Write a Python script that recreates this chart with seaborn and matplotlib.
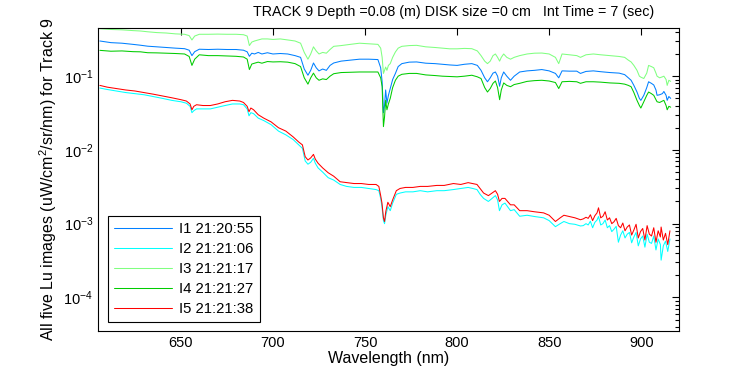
import matplotlib
matplotlib.use('Agg')
import matplotlib.pyplot as plt
import matplotlib.ticker as mticker
import pandas as pd
import seaborn as sns

# Upper group: I1 (blue), I3 (light green), I4 (green)
wl_top = [606, 612, 618, 624, 628, 632, 637, 642, 647, 652, 654.5, 656, 657.5, 660,
          665, 670, 675, 680, 684, 686, 687.2, 688.5, 690, 692, 694, 697, 700, 704,
          708, 712, 715, 717, 719, 720.5, 722, 723.5, 725, 727, 729, 731, 733, 737,
          742, 747, 752, 757, 758.5, 759.3, 760, 760.6, 761.2, 761.9, 762.7, 763.7,
          765, 766.5, 768, 770, 774, 778, 783, 788, 792, 796, 800, 804, 808, 811,
          813, 815, 816.5, 818, 819.5, 820.8, 822, 823.1, 824, 825.3, 827, 829, 831,
          834, 838, 842, 846, 850, 853.4, 855.2, 857, 861, 865, 867, 870, 874, 878,
          883, 888, 891, 893, 894.5, 896, 897.7, 899, 899.8, 901.4, 903, 904, 905.5,
          906.8, 908, 908.6, 910, 911.5, 912.3, 913.5, 914.1, 915, 916]
i3 = [0.44, 0.43, 0.425, 0.415, 0.41, 0.40, 0.39, 0.385, 0.375, 0.37, 0.355, 0.31, 0.35, 0.37,
      0.37, 0.372, 0.37, 0.37, 0.365, 0.35, 0.26, 0.29, 0.30, 0.31, 0.32, 0.32, 0.315, 0.32,
      0.31, 0.30, 0.28, 0.21, 0.17, 0.20, 0.25, 0.22, 0.20, 0.21, 0.205, 0.23, 0.254, 0.26,
      0.27, 0.28, 0.275, 0.27, 0.24, 0.18, 0.109, 0.12, 0.133, 0.12, 0.14, 0.148,
      0.18, 0.213, 0.24, 0.254, 0.26, 0.262, 0.25, 0.245, 0.24, 0.235, 0.235, 0.238, 0.236, 0.22,
      0.19, 0.16, 0.148, 0.16, 0.19, 0.20, 0.18, 0.16, 0.18, 0.20, 0.18, 0.17, 0.18,
      0.19, 0.20, 0.205, 0.206, 0.20, 0.18, 0.148, 0.20, 0.195, 0.19, 0.18, 0.195, 0.20, 0.195,
      0.19, 0.185, 0.18, 0.165, 0.156, 0.14, 0.12, 0.10, 0.097, 0.093, 0.11, 0.14, 0.135,
      0.13, 0.11, 0.10, 0.095, 0.098, 0.10, 0.09, 0.075, 0.088, 0.085]
i1 = [0.300, 0.285, 0.28, 0.27, 0.263, 0.255, 0.25, 0.245, 0.24, 0.236, 0.225, 0.19, 0.215, 0.232,
      0.23, 0.232, 0.23, 0.23, 0.225, 0.214, 0.186, 0.205, 0.20, 0.21, 0.20, 0.208, 0.20, 0.203,
      0.20, 0.19, 0.18, 0.125, 0.103, 0.12, 0.151, 0.13, 0.118, 0.125, 0.12, 0.14, 0.151, 0.16,
      0.165, 0.17, 0.17, 0.168, 0.13, 0.084, 0.032, 0.04, 0.065, 0.043, 0.055, 0.068,
      0.09, 0.109, 0.135, 0.148, 0.155, 0.156, 0.15, 0.148, 0.145, 0.142, 0.140, 0.145, 0.148, 0.14,
      0.12, 0.095, 0.084, 0.095, 0.11, 0.114, 0.10, 0.073, 0.095, 0.114, 0.10, 0.088, 0.10,
      0.114, 0.118, 0.12, 0.123, 0.118, 0.109, 0.095, 0.118, 0.117, 0.117, 0.109, 0.116, 0.118, 0.115,
      0.112, 0.11, 0.105, 0.095, 0.088, 0.075, 0.061, 0.05, 0.047, 0.055, 0.07, 0.084, 0.08,
      0.076, 0.065, 0.055, 0.056, 0.058, 0.062, 0.055, 0.047, 0.053, 0.05]
i4 = [0.224, 0.218, 0.220, 0.215, 0.214, 0.208, 0.207, 0.205, 0.203, 0.200, 0.185, 0.14, 0.17, 0.195,
      0.19, 0.19, 0.188, 0.186, 0.182, 0.17, 0.123, 0.146, 0.150, 0.155, 0.150, 0.158, 0.156, 0.157,
      0.155, 0.148, 0.135, 0.095, 0.078, 0.095, 0.11, 0.095, 0.088, 0.092, 0.09, 0.10, 0.108, 0.112,
      0.113, 0.114, 0.114, 0.114, 0.095, 0.072, 0.0207, 0.028, 0.047, 0.035, 0.042, 0.050,
      0.07, 0.088, 0.10, 0.106, 0.109, 0.109, 0.104, 0.102, 0.10, 0.099, 0.098, 0.100, 0.103, 0.098,
      0.093, 0.07, 0.061, 0.068, 0.08, 0.086, 0.07, 0.048, 0.065, 0.081, 0.075, 0.072, 0.077,
      0.080, 0.085, 0.087, 0.088, 0.086, 0.082, 0.068, 0.084, 0.085, 0.084, 0.08, 0.084, 0.084, 0.083,
      0.081, 0.08, 0.078, 0.075, 0.072, 0.06, 0.047, 0.04, 0.037, 0.045, 0.055, 0.061, 0.058,
      0.055, 0.048, 0.045, 0.044, 0.046, 0.047, 0.04, 0.035, 0.039, 0.038]

# Lower group: I2 (cyan), I5 (red)
wl_low = [606, 610, 615, 620, 625, 630, 635, 640, 645, 650, 653, 655, 656, 657, 658.5, 662,
          666, 670, 674, 678, 682, 684, 686, 687, 688, 689.5, 692, 695, 699, 703, 707, 711,
          714, 716, 717.5, 719, 720.5, 722, 723, 724.5, 727, 730, 733, 736.5, 740, 744, 748,
          752, 756, 757.5, 758.5, 759.2, 760, 760.6, 761.3, 762.4, 763.7, 765, 767, 769, 772,
          776, 780, 784, 789, 793, 798, 802, 806, 808.5, 810.8, 812.5, 814.4, 817, 819, 820.8,
          822, 823, 824.4, 826, 829, 831, 834, 838, 842, 847, 850, 853.4, 856, 858, 861, 864,
          867, 868.5, 870, 871.2, 872.4, 873.6, 874.8, 876, 876.8, 878, 879.2, 880.4, 881.6,
          882.8, 884, 885.2, 886.4, 887.6, 888.8, 890, 891.2, 892.4, 893.6, 894.8, 896, 897.2,
          898.4, 899.6, 900.8, 902, 903.2, 904.4, 905.6, 906.8, 908, 909.2, 910.4, 910.8, 912,
          913.2, 914.4, 915.6]
i5 = [0.075, 0.071, 0.068, 0.065, 0.063, 0.060, 0.057, 0.054, 0.051, 0.048, 0.046, 0.042, 0.035, 0.039, 0.041, 0.040,
      0.040, 0.042, 0.045, 0.047, 0.046, 0.044, 0.039, 0.033, 0.037, 0.035, 0.030, 0.027, 0.024, 0.020, 0.018, 0.015,
      0.0128, 0.0117, 0.0081, 0.0073, 0.0078, 0.0087, 0.0075, 0.0066, 0.0057, 0.0049, 0.0044, 0.0037, 0.0036, 0.0035, 0.0035,
      0.0034, 0.0034, 0.0032, 0.0024, 0.0019, 0.0012, 0.00107, 0.00147, 0.00195, 0.0017, 0.0021, 0.0028, 0.0030, 0.0031,
      0.0031, 0.0032, 0.0032, 0.0033, 0.0033, 0.0035, 0.0034, 0.0036, 0.0035, 0.0034, 0.0030, 0.0026, 0.0024, 0.0026, 0.0028,
      0.0025, 0.0020, 0.0022, 0.0022, 0.0018, 0.0018, 0.0015, 0.0015, 0.00145, 0.0014, 0.0013, 0.00107, 0.0012, 0.0013, 0.00125, 0.0012,
      0.00113, 0.00116,
      0.00122, 0.00118, 0.00132, 0.00110, 0.00128, 0.00140, 0.00164, 0.00120, 0.00126, 0.00145, 0.00112,
      0.00120, 0.00100, 0.00106, 0.00118, 0.00094, 0.00088, 0.00102, 0.00080, 0.00090, 0.00096, 0.00070,
      0.00082, 0.00098, 0.00064, 0.00078, 0.00086, 0.00060, 0.00094, 0.00072, 0.00068, 0.00088, 0.00056,
      0.00080, 0.00066, 0.00090, 0.00060, 0.00074, 0.00052, 0.00080]
i2 = [0.069, 0.066, 0.063, 0.060, 0.058, 0.056, 0.053, 0.050, 0.047, 0.045, 0.043, 0.039, 0.032, 0.034, 0.036, 0.036,
      0.036, 0.038, 0.040, 0.042, 0.042, 0.041, 0.036, 0.029, 0.032, 0.031, 0.027, 0.025, 0.022, 0.018, 0.016, 0.0138,
      0.0117, 0.0105, 0.0071, 0.0064, 0.0068, 0.0077, 0.0066, 0.0057, 0.0050, 0.0042, 0.0039, 0.0034, 0.0032, 0.0031, 0.0031,
      0.0030, 0.0029, 0.0028, 0.0022, 0.0017, 0.0011, 0.00100, 0.0013, 0.0017, 0.0015, 0.0019, 0.0025, 0.0026, 0.0027,
      0.0027, 0.0028, 0.0027, 0.0028, 0.0028, 0.0029, 0.0030, 0.0031, 0.0030, 0.0029, 0.0025, 0.0022, 0.0020, 0.0022, 0.0024,
      0.0021, 0.0015, 0.0018, 0.0019, 0.0015, 0.00155, 0.00126, 0.0013, 0.00125, 0.0012, 0.0011, 0.00091, 0.0010, 0.00107, 0.0010, 0.00098,
      0.00093, 0.00094,
      0.00100, 0.00096, 0.00108, 0.00088, 0.00104, 0.00112, 0.00125, 0.00096, 0.00100, 0.00112, 0.00088,
      0.00094, 0.00078, 0.00084, 0.00092, 0.00056, 0.00070, 0.00080, 0.00064, 0.00072, 0.00076, 0.00055,
      0.00066, 0.00076, 0.00050, 0.00062, 0.00068, 0.00048, 0.00072, 0.00056, 0.00054, 0.00068, 0.00044,
      0.00062, 0.00052, 0.00032, 0.00050, 0.00058, 0.00042, 0.00062]

labels = ['I1 21:20:55', 'I2 21:21:06', 'I3 21:21:17', 'I4 21:21:27', 'I5 21:21:38']
colors = ['#0080ff', '#00ffff', '#80ff80', '#00cc00', '#ff0000']

# long-form table for seaborn
frames = []
for lab, x, y in zip(labels, [wl_top, wl_low, wl_top, wl_top, wl_low], [i1, i2, i3, i4, i5]):
    frames.append(pd.DataFrame({'Wavelength': x, 'Lu': y, 'Image': lab}))
df = pd.concat(frames, ignore_index=True)

sns.set_style('white')
plt.rcParams['font.family'] = ['Liberation Sans', 'DejaVu Sans']
plt.rcParams['mathtext.fontset'] = 'custom'
plt.rcParams['mathtext.rm'] = 'Liberation Sans'
for key in ['text.color', 'axes.labelcolor', 'xtick.color', 'ytick.color']:
    plt.rcParams[key] = 'black'

fig = plt.figure(figsize=(7.5, 3.75), dpi=100)
ax = fig.add_axes([0.1307, 0.1173, 0.7746, 0.808])

sns.lineplot(data=df, x='Wavelength', y='Lu', hue='Image', hue_order=labels,
             palette=dict(zip(labels, colors)), estimator=None, sort=False,
             linewidth=0.75, ax=ax)

ax.set_yscale('log')
ax.set_xlim(605, 920.5)
ax.set_ylim(3.5e-5, 0.45)
ax.set_xticks([650, 700, 750, 800, 850, 900])
ax.yaxis.set_major_locator(mticker.LogLocator(base=10))
ax.yaxis.set_minor_locator(mticker.LogLocator(base=10, subs=range(2, 10)))
ax.yaxis.set_minor_formatter(mticker.NullFormatter())
ax.tick_params(which='both', direction='in', top=True, right=True, labelsize=10.5, color='black')
ax.tick_params(which='major', length=5, width=0.8)
ax.tick_params(which='minor', length=3, width=0.8)
for s in ax.spines.values():
    s.set_color('black')
    s.set_linewidth(0.8)

ax.set_xlabel('Wavelength (nm)', fontsize=11.5, labelpad=1)
ax.set_ylabel('All five Lu images (uW/cm$^2$/sr/nm) for Track 9', fontsize=11.5, labelpad=3)
fig.text(0.605, 0.968, 'TRACK 9 Depth =0.08 (m) DISK size =0 cm   Int Time = 7 (sec)',
         ha='center', va='center', fontsize=10.3)

leg = ax.legend(loc='lower left', bbox_to_anchor=(0.017, 0.03), borderaxespad=0,
                fancybox=False, framealpha=1, edgecolor='black', fontsize=10.7,
                handlelength=3.9, handletextpad=0.5, labelspacing=0.4, borderpad=0.4)
leg.get_frame().set_linewidth(0.8)

fig.savefig('out.png', dpi=100)
